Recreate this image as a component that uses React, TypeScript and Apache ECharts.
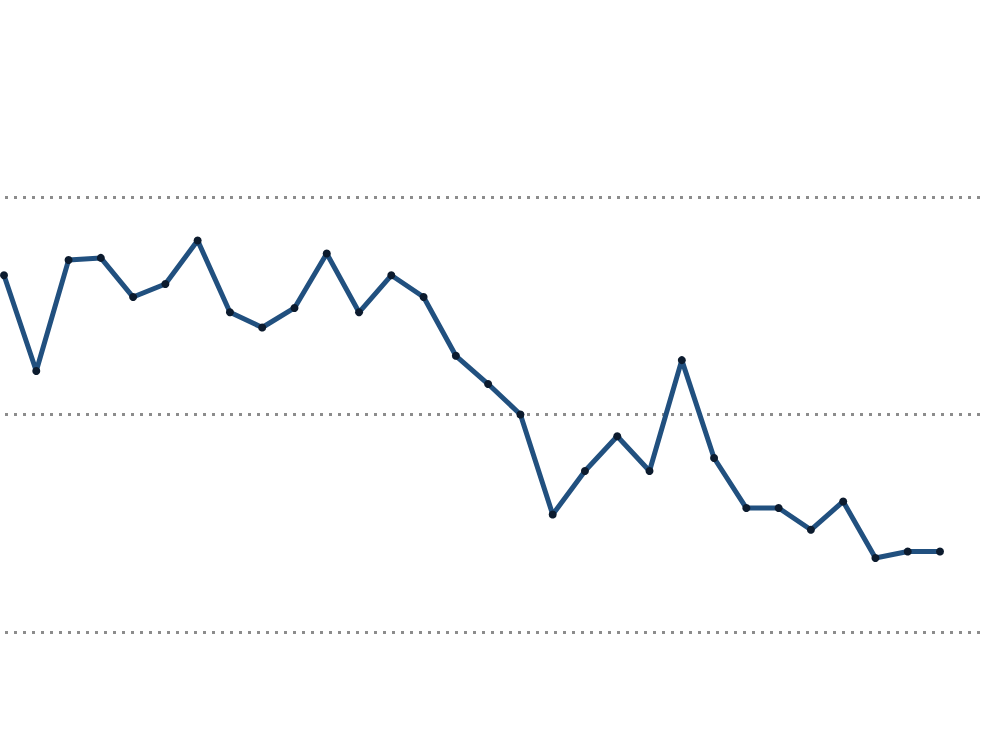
import React, { useEffect, useRef } from "react";
import * as echarts from "echarts";

const categories: string[] = [
  "1", "2", "3", "4", "5", "6", "7", "8", "9", "10",
  "11", "12", "13", "14", "15", "16", "17", "18", "19", "20",
  "21", "22", "23", "24", "25", "26", "27", "28", "29", "30",
];

const values: number[] = [
  56.4, 52.0, 57.1, 57.2, 55.4, 56.0, 58.0, 54.7, 54.0, 54.9,
  57.4, 54.7, 56.4, 55.4, 52.7, 51.4, 50.0, 45.4, 47.4, 49.0,
  47.4, 52.5, 48.0, 45.7, 45.7, 44.7, 46.0, 43.4, 43.7, 43.7,
];

const yMin = 40;
const yMax = 60;
const yStep = 10;

export default function App() {
  const ref = useRef<HTMLDivElement>(null);
  useEffect(() => {
    if (!ref.current) return;
    const chart = echarts.init(ref.current, undefined, { renderer: "svg" });
    chart.setOption({
      animation: false,
      backgroundColor: "#ffffff",
      grid: [
        { left: 5, right: 12, top: 197, bottom: 108, containLabel: false },
        { left: 4, right: 53, top: 197, bottom: 108, containLabel: false },
      ],
      xAxis: [
        { type: "category", gridIndex: 0, data: categories, show: false },
        { type: "category", gridIndex: 1, data: categories, boundaryGap: false, show: false },
      ],
      yAxis: [
        {
          type: "value",
          gridIndex: 0,
          min: yMin,
          max: yMax,
          interval: yStep,
          axisLine: { show: false },
          axisTick: { show: false },
          axisLabel: { show: false },
          splitLine: {
            show: true,
            lineStyle: { color: "#8c8c8c", width: 3, type: [3, 6] },
          },
        },
        {
          type: "value",
          gridIndex: 1,
          min: yMin,
          max: yMax,
          interval: yStep,
          show: false,
          splitLine: { show: false },
        },
      ],
      series: [
        {
          type: "line",
          xAxisIndex: 1,
          yAxisIndex: 1,
          data: values,
          lineStyle: { color: "#21507f", width: 5 },
          symbol: "circle",
          symbolSize: 8,
          showSymbol: true,
          itemStyle: { color: "#0c1b2e", borderWidth: 0 },
          clip: false,
        },
      ],
    });
    return () => chart.dispose();
  }, []);
  return (
    <div
      ref={ref}
      style={{ position: "absolute", left: 0, top: 0, width: 993, height: 740 }}
    />
  );
}
